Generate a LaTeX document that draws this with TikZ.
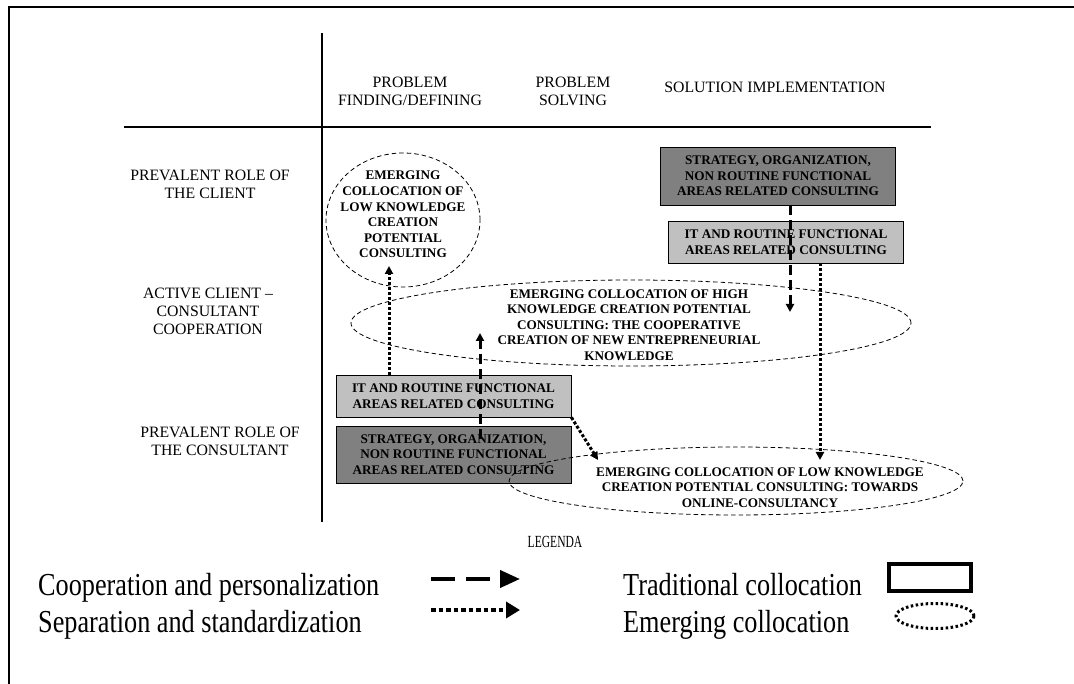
\documentclass[tikz,border=0pt]{standalone}
\usepackage{fontspec}
\setmainfont{Liberation Serif}
\newfontfamily\legfont[FakeStretch=0.82]{Liberation Serif}
\newfontfamily\legtitlefont[FakeStretch=0.68]{Liberation Serif}
\usetikzlibrary{arrows.meta,shapes.geometric}
\definecolor{boxdark}{RGB}{128,128,128}
\definecolor{boxlight}{RGB}{192,192,192}
\tikzset{
  hdr/.style={font=\fontsize{15.8}{18}\selectfont, align=center, inner sep=0pt},
  boxtxt/.style={font=\fontsize{13.2}{15.6}\selectfont\bfseries, align=center, inner sep=0pt},
  darkbox/.style={boxtxt, draw=black, line width=0.9pt, fill=boxdark,
    minimum width=235pt, minimum height=57pt},
  lightbox/.style={boxtxt, draw=black, line width=0.9pt, fill=boxlight,
    minimum width=235pt, minimum height=42pt},
  emerge/.style={draw, ellipse, line width=0.8pt, dash pattern=on 4.5pt off 3pt, inner sep=0pt},
  coopArrow/.style={line width=3pt, dash pattern=on 10pt off 5pt,
    -{Triangle[length=8pt,width=8pt]}},
  sepArrow/.style={line width=3pt, dash pattern=on 3pt off 2pt,
    -{Triangle[length=8pt,width=8pt]}},
  legtxt/.style={font=\legfont\fontsize{32}{36}\selectfont, inner sep=0pt},
}
\begin{document}
\begin{tikzpicture}[x=1pt,y=-1pt]
\useasboundingbox (0,0) rectangle (1074,684);
\fill[white] (0,0) rectangle (1074,684);

% frame and axes
\draw[line width=2.5pt] (9,684) -- (9,7) -- (1074,7);
\draw[line width=1.1pt] (322,33) -- (322,522);
\draw[line width=1.1pt] (124,127) -- (931,127);

% column headers
\node[hdr] (hFind) at (410,91) {PROBLEM\\FINDING/DEFINING};
\node[hdr] (hSolve) at (573,91) {PROBLEM\\SOLVING};
\node[hdr] (hImpl) at (775,87) {SOLUTION IMPLEMENTATION};

% row headers
\node[hdr] (rClient) at (210,184) {PREVALENT ROLE OF\\THE CLIENT};
\node[hdr] (rCoop) at (208,311) {ACTIVE CLIENT --\\CONSULTANT\\COOPERATION};
\node[hdr] (rCons) at (220,441) {PREVALENT ROLE OF\\THE CONSULTANT};

% traditional collocations
\node[darkbox, minimum height=58pt] (sboxR) at (778,176)
  {STRATEGY, ORGANIZATION,\\NON ROUTINE FUNCTIONAL\\AREAS RELATED CONSULTING};
\node[lightbox] (iboxR) at (786,242)
  {IT AND ROUTINE FUNCTIONAL\\AREAS RELATED CONSULTING};
\node[lightbox] (iboxL) at (453.5,396)
  {IT AND ROUTINE FUNCTIONAL\\AREAS RELATED CONSULTING};
\node[darkbox] (sboxL) at (453.5,454.5)
  {STRATEGY, ORGANIZATION,\\NON ROUTINE FUNCTIONAL\\AREAS RELATED CONSULTING};

% emerging collocations
\node[emerge, minimum width=154pt, minimum height=134pt] (eLow) at (403,220) {};
\node[boxtxt] (tLow) at (403,214.5)
  {EMERGING\\COLLOCATION OF\\LOW KNOWLEDGE\\CREATION\\POTENTIAL\\CONSULTING};
\node[emerge, minimum width=560pt, minimum height=86pt] (eHigh) at (631,323) {};
\node[boxtxt] (tHigh) at (629,325)
  {EMERGING COLLOCATION OF HIGH\\KNOWLEDGE CREATION POTENTIAL\\CONSULTING: THE COOPERATIVE\\CREATION OF NEW ENTREPRENEURIAL\\KNOWLEDGE};
\node[emerge, minimum width=454pt, minimum height=68pt] (eOnline) at (736,481) {};
\node[boxtxt] (tOnline) at (760,487.5)
  {EMERGING COLLOCATION OF LOW KNOWLEDGE\\CREATION POTENTIAL CONSULTING: TOWARDS\\ONLINE-CONSULTANCY};

% transitions
\coordinate (tipA) at (389,266);
\coordinate (tipB) at (480,333);
\coordinate (tipC) at (790,312);
\coordinate (tipD) at (820,460);
\coordinate (tipE) at (598,460);
\draw[sepArrow] (iboxL.north -| tipA) -- (tipA);
\draw[coopArrow] ([yshift=-13pt]sboxL.north -| tipB) -- (tipB);
\draw[coopArrow] (sboxR.south -| tipC) -- (tipC);
\draw[sepArrow] (iboxR.south -| tipD) -- (tipD);
\draw[sepArrow] (iboxL.south east) -- (tipE);

% legend
\node[font=\legtitlefont\fontsize{17}{19}\selectfont, inner sep=0pt, anchor=base] (legTitle) at (555,547) {LEGENDA};
\node[legtxt, anchor=base west] (lCoop) at (38,595) {Cooperation and personalization};
\node[legtxt, anchor=base west] (lSep) at (38,632) {Separation and standardization};
\node[legtxt, anchor=base west] (lTrad) at (623,595) {Traditional collocation};
\node[legtxt, anchor=base west] (lEmer) at (623,632) {Emerging collocation};
\coordinate (lcS) at (431,579);
\coordinate (lcE) at (520,579);
\coordinate (lsS) at (431,610);
\coordinate (lsE) at (520,610);
\draw[line width=4pt, dash pattern=on 24pt off 11pt, -{Triangle[length=20pt,width=17pt]}] (lcS) -- (lcE);
\draw[line width=4pt, dash pattern=on 4.5pt off 3pt, -{Triangle[length=14pt,width=16pt]}] (lsS) -- (lsE);
\node[draw, line width=4pt, minimum width=82pt, minimum height=27pt, inner sep=0pt] (lRect) at (930,577.5) {};
\node[draw, ellipse, line width=3pt, dash pattern=on 2.5pt off 2.5pt, minimum width=78pt, minimum height=25pt, inner sep=0pt] (lEll) at (935,616) {};
\end{tikzpicture}
\end{document}
